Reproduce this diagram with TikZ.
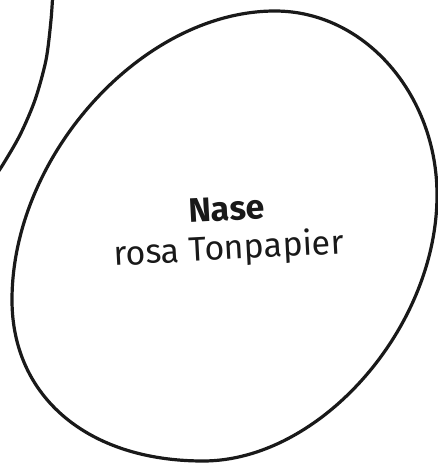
\documentclass[tikz,border=0pt]{standalone}
\usepackage{fontspec}
\setmainfont{Fira Sans}
\usepackage{tikz}
\usetikzlibrary{positioning}

\begin{document}
\begin{tikzpicture}[
  x=1pt, y=-1pt,
  outline/.style={line width=3.2pt, draw=black!90, line join=round},
  lbl/.style={align=center, font=\fontsize{34}{39}\selectfont, text=black!90}
]
\clip (0,0) rectangle (438,463);

%% Nose outline
\coordinate (top) at (275,11);
\coordinate (rgt) at (437,195);
\coordinate (bot) at (203,461);
\coordinate (lft) at (12,300);
\draw[outline] (top) .. controls (365,11) and (437,95) .. (rgt)
  .. controls (437,328) and (320,461) .. (bot)
  .. controls (88,461) and (12,397) .. (lft)
  .. controls (12,155) and (143,11) .. (top) -- cycle;

%% Neighbouring piece, cut off at the edge
\draw[outline] plot[smooth] coordinates {
  (53,-10) (51,20) (46,60) (35,100) (20,135) (2,166) (-8,180)};

%% Label
\node[lbl, rotate=3] (nase) at (228,232) {\textbf{Nase}\\rosa Tonpapier};

\end{tikzpicture}
\end{document}
